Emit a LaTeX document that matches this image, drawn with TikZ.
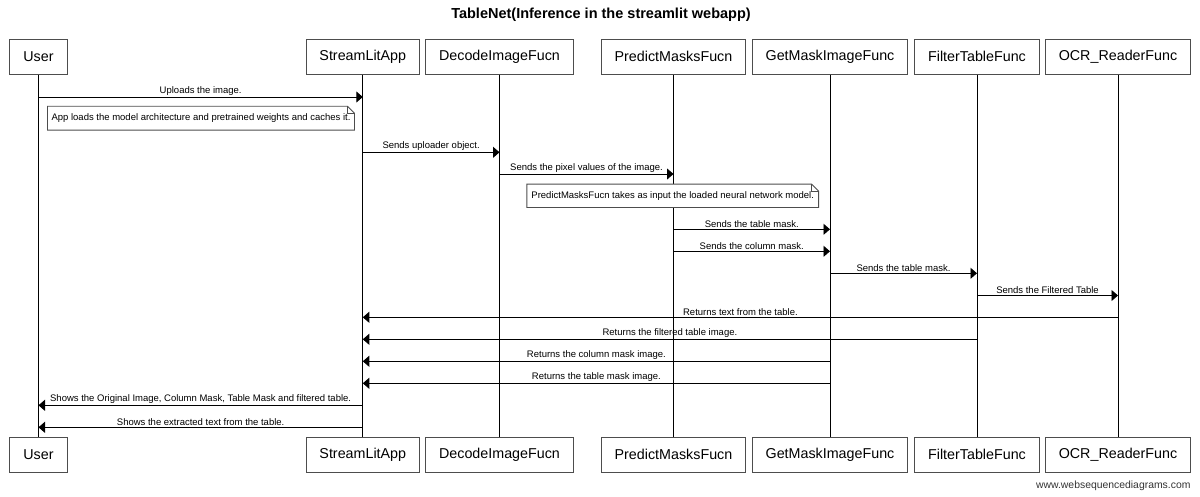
\documentclass[tikz,border=0pt]{standalone}
\usepackage{fontspec}
\setmainfont{Liberation Sans}
\usetikzlibrary{arrows.meta,positioning,calc}
\definecolor{cedge}{HTML}{4D4D4D}
\definecolor{cfoot}{HTML}{333333}
\tikzset{
  actor/.style={draw=cedge, line width=0.9pt, fill=white, minimum height=35pt, inner xsep=13.5pt, inner ysep=0pt, font=\fontsize{14.3}{16}\selectfont},
  life/.style={line width=0.9pt},
  msg/.style={-{Triangle[length=6.5pt,width=11pt]}, line width=0.9pt},
  lbl/.style={above, inner sep=1.5pt, font=\fontsize{9.5}{11}\selectfont},
  note/.style={fill=white, inner sep=0pt, minimum height=23.5pt, font=\fontsize{9.5}{11}\selectfont},
  fold/.style={draw=cedge, line width=0.9pt},
}

\begin{document}
\begin{tikzpicture}[x=1pt,y=-1pt]
\useasboundingbox (0,0) rectangle (1200,496);
\node[font=\bfseries\fontsize{14.5}{17}\selectfont] (title) at (601,15) {TableNet(Inference in the streamlit webapp)};
% participants on top
\node[actor] (usrT) at (38.5,56.8) {User};
\node[actor] (appT) at (362.8,56.8) {StreamLitApp};
\node[actor] (decT) at (499.5,56.8) {DecodeImageFucn};
\node[actor] (predT) at (673.5,56.8) {PredictMasksFucn};
\node[actor] (maskT) at (830,56.8) {GetMaskImageFunc};
\node[actor] (filtT) at (977,56.8) {FilterTableFunc};
\node[actor] (ocrT) at (1118,56.8) {OCR\_ReaderFunc};
% and again at the bottom
\node[actor] (usrB) at (38.5,454.5) {User};
\node[actor] (appB) at (362.8,454.5) {StreamLitApp};
\node[actor] (decB) at (499.5,454.5) {DecodeImageFucn};
\node[actor] (predB) at (673.5,454.5) {PredictMasksFucn};
\node[actor] (maskB) at (830,454.5) {GetMaskImageFunc};
\node[actor] (filtB) at (977,454.5) {FilterTableFunc};
\node[actor] (ocrB) at (1118,454.5) {OCR\_ReaderFunc};
\foreach \p in {usr,app,dec,pred,mask,filt,ocr}
  \draw[life] (\p T.south) -- (\p B.north);
% messages
\draw[msg] (usrT |- 0,97) -- node[lbl] {Uploads the image.} (appT |- 0,97);
\node[note, minimum width=306.6pt] (nt1) at (201,118.2) {App loads the model architecture and pretrained weights and caches it.};
\draw[fold] (nt1.south west) |- ([xshift=-7pt]nt1.north east) -- ([yshift=-7pt]nt1.north east) |- cycle;
\draw[fold] ([xshift=-7pt]nt1.north east) |- ([yshift=-7pt]nt1.north east);
\draw[msg] (appT |- 0,152.3) -- node[lbl] {Sends uploader object.} (decT |- 0,152.3);
\draw[msg] (decT |- 0,174) -- node[lbl] {Sends the pixel values of the image.} (predT |- 0,174);
\node[note, minimum width=291.3pt, minimum height=23pt] (nt2) at (672.7,195.8) {PredictMasksFucn takes as input the loaded neural network model.};
\draw[fold] (nt2.south west) |- ([xshift=-7pt]nt2.north east) -- ([yshift=-7pt]nt2.north east) |- cycle;
\draw[fold] ([xshift=-7pt]nt2.north east) |- ([yshift=-7pt]nt2.north east);
\draw[msg] (predT |- 0,229.3) -- node[lbl] {Sends the table mask.} (maskT |- 0,229.3);
\draw[msg] (predT |- 0,251.3) -- node[lbl] {Sends the column mask.} (maskT |- 0,251.3);
\draw[msg] (maskT |- 0,273.3) -- node[lbl] {Sends the table mask.} (filtT |- 0,273.3);
\draw[msg] (filtT |- 0,295.5) -- node[lbl] {Sends the Filtered Table} (ocrT |- 0,295.5);
% answers back to the app
\draw[msg] (ocrT |- 0,317.3) -- node[lbl] {Returns text from the table.} (appT |- 0,317.3);
\draw[msg] (filtT |- 0,339.3) -- node[lbl] {Returns the filtered table image.} (appT |- 0,339.3);
\draw[msg] (maskT |- 0,361.3) -- node[lbl] {Returns the column mask image.} (appT |- 0,361.3);
\draw[msg] (maskT |- 0,383.3) -- node[lbl] {Returns the table mask image.} (appT |- 0,383.3);
\draw[msg] (appT |- 0,405.3) -- node[lbl] {Shows the Original Image, Column Mask, Table Mask and filtered table.} (usrT |- 0,405.3);
\draw[msg] (appT |- 0,427.3) -- node[lbl] {Shows the extracted text from the table.} (usrT |- 0,427.3);
\node[anchor=east, text=cfoot, font=\fontsize{10.4}{12}\selectfont] (site) at (1194,485.7) {www.websequencediagrams.com};
\end{tikzpicture}
\end{document}
